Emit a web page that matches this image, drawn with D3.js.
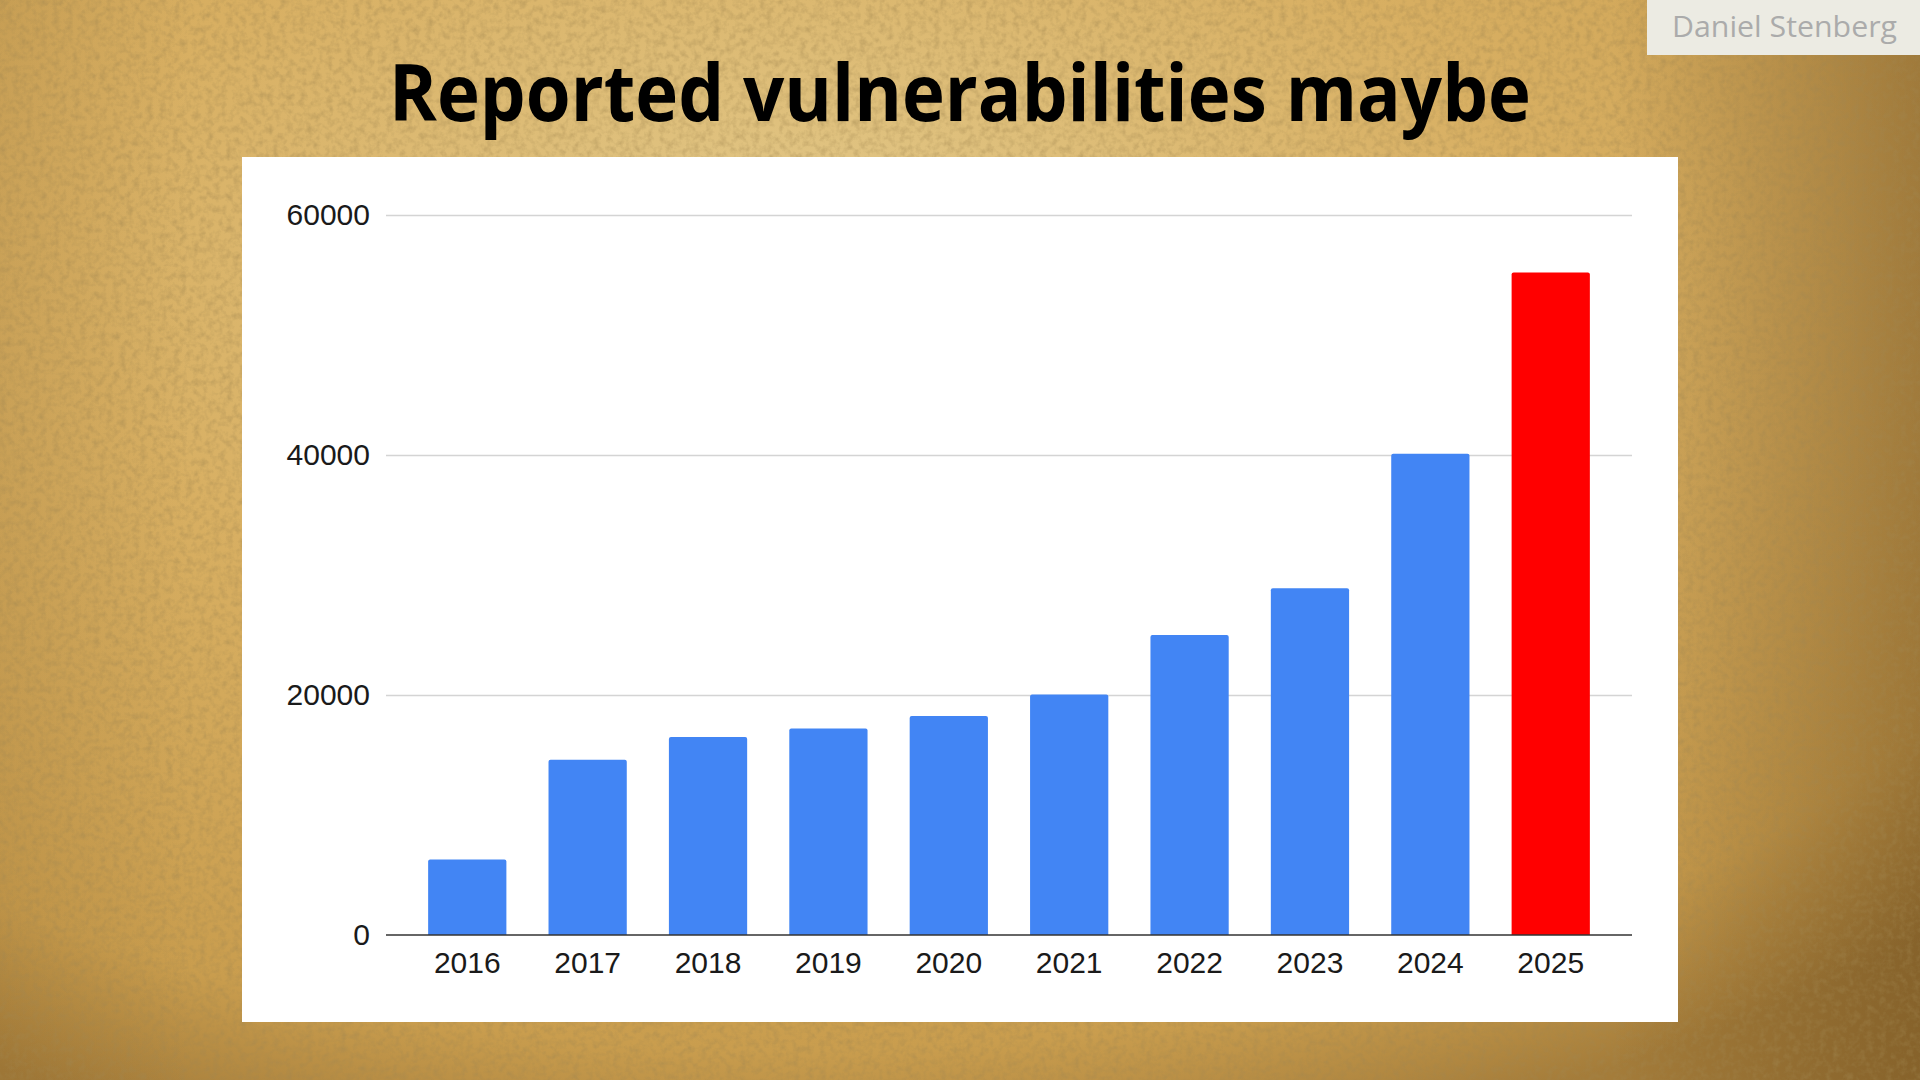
<!DOCTYPE html>
<html>
<head>
<meta charset="utf-8">
<script src="https://cdn.jsdelivr.net/npm/d3@7"></script>
<style>
  html, body { margin: 0; padding: 0; width: 1920px; height: 1080px; overflow: hidden; }
  svg { display: block; }
</style>
</head>
<body>
<svg id="chart" width="1920" height="1080"></svg>
<script>
// ---- data ----
const years = ["2016","2017","2018","2019","2020","2021","2022","2023","2024","2025"];
const reports = [6300, 14600, 16500, 17200, 18250, 20050, 25000, 28900, 40100, 55200];
const barColors = ["#4285F4","#4285F4","#4285F4","#4285F4","#4285F4","#4285F4","#4285F4","#4285F4","#4285F4","#FF0000"];
const yTicks = [0, 20000, 40000, 60000];
const titleText = "Reported vulnerabilities maybe";
const authorText = "Daniel Stenberg";

const svg = d3.select("#chart");
const W = 1920, H = 1080;

// ---- background ----
const defs = svg.append("defs");
const rg = defs.append("radialGradient").attr("id", "bg")
  .attr("cx", "42%").attr("cy", "25%").attr("r", "85%");
rg.append("stop").attr("offset", "0%").attr("stop-color", "#e3ca8c");
rg.append("stop").attr("offset", "45%").attr("stop-color", "#d8af62");
rg.append("stop").attr("offset", "85%").attr("stop-color", "#c99d4e");
rg.append("stop").attr("offset", "100%").attr("stop-color", "#a47c3a");

const lg = defs.append("linearGradient").attr("id", "edge").attr("x1", "0%").attr("x2", "100%").attr("y1", "0%").attr("y2", "0%");
lg.append("stop").attr("offset", "0%").attr("stop-color", "#6b4a1a").attr("stop-opacity", 0.12);
lg.append("stop").attr("offset", "10%").attr("stop-color", "#6b4a1a").attr("stop-opacity", 0);
lg.append("stop").attr("offset", "84%").attr("stop-color", "#5a3c14").attr("stop-opacity", 0);
lg.append("stop").attr("offset", "100%").attr("stop-color", "#5a3c14").attr("stop-opacity", 0.4);

const f = defs.append("filter").attr("id", "tex").attr("x", 0).attr("y", 0).attr("width", "100%").attr("height", "100%");
f.append("feTurbulence").attr("type", "fractalNoise").attr("baseFrequency", "0.15").attr("numOctaves", 3).attr("seed", 4).attr("result", "n");
f.append("feColorMatrix").attr("type", "matrix")
  .attr("values", "0 0 0 0 0.35  0 0 0 0 0.24  0 0 0 0 0.08  0 0 0 -1.6 0.95");

svg.append("rect").attr("width", W).attr("height", H).attr("fill", "url(#bg)");
svg.append("rect").attr("width", W).attr("height", H).attr("fill", "url(#edge)");
svg.append("rect").attr("width", W).attr("height", H).attr("filter", "url(#tex)").attr("opacity", 0.55);

// ---- title ----
svg.append("text")
  .attr("x", 960).attr("y", 121)
  .attr("text-anchor", "middle")
  .attr("font-family", "'Open Sans', 'Noto Sans', sans-serif")
  .attr("font-weight", 700)
  .attr("font-size", 78)
  .attr("fill", "#000")
  .attr("textLength", 1142)
  .attr("lengthAdjust", "spacingAndGlyphs")
  .text(titleText);

// ---- author badge ----
svg.append("rect").attr("x", 1647).attr("y", 0).attr("width", 273).attr("height", 55).attr("fill", "#ecebe3");
svg.append("text")
  .attr("x", 1672).attr("y", 37)
  .attr("font-family", "'Open Sans', sans-serif")
  .attr("font-size", 30)
  .attr("fill", "#ababab")
  .attr("textLength", 225)
  .attr("lengthAdjust", "spacingAndGlyphs")
  .text(authorText);

// ---- chart panel ----
svg.append("rect").attr("x", 242).attr("y", 157).attr("width", 1436).attr("height", 865).attr("fill", "#ffffff");

const x = d3.scaleBand().domain(years).range([386, 1632]).paddingInner(0.35).paddingOuter(0.35);
const y = d3.scaleLinear().domain([0, 60000]).range([935, 215]);

const g = svg.append("g");

// gridlines via axis
const grid = g.append("g").attr("transform", "translate(386,0)")
  .call(d3.axisLeft(y).tickValues(yTicks.filter(v => v > 0)).tickSize(-1246).tickFormat(""));
grid.select(".domain").remove();
grid.selectAll("line").attr("stroke", "#d4d4d4").attr("stroke-width", 1.5);

// y labels
const ya = g.append("g").attr("transform", "translate(370,0)")
  .call(d3.axisLeft(y).tickValues(yTicks).tickSize(0).tickPadding(0).tickFormat(d3.format("d")));
ya.select(".domain").remove();
ya.selectAll("text").attr("font-family", "'Liberation Sans', Arial, sans-serif").attr("font-size", 30).attr("fill", "#1a1a1a");

// bars
g.selectAll("path.bar").data(years).enter().append("path")
  .attr("class", "bar")
  .attr("fill", (d, i) => barColors[i])
  .attr("d", (d, i) => {
    const x0 = x(d), w = x.bandwidth(), y0 = y(reports[i]), y1 = y(0), r = 2;
    return `M${x0},${y1}V${y0 + r}Q${x0},${y0} ${x0 + r},${y0}H${x0 + w - r}Q${x0 + w},${y0} ${x0 + w},${y0 + r}V${y1}Z`;
  });

// baseline
g.append("line").attr("x1", 386).attr("x2", 1632).attr("y1", y(0)).attr("y2", y(0))
  .attr("stroke", "#333").attr("stroke-width", 1.5);

// x labels
const xa = g.append("g").attr("transform", `translate(0,${y(0)})`)
  .call(d3.axisBottom(x).tickSize(0).tickPadding(17));
xa.select(".domain").remove();
xa.selectAll("text").attr("font-family", "'Liberation Sans', Arial, sans-serif").attr("font-size", 30).attr("fill", "#1a1a1a");
</script>
</body>
</html>
